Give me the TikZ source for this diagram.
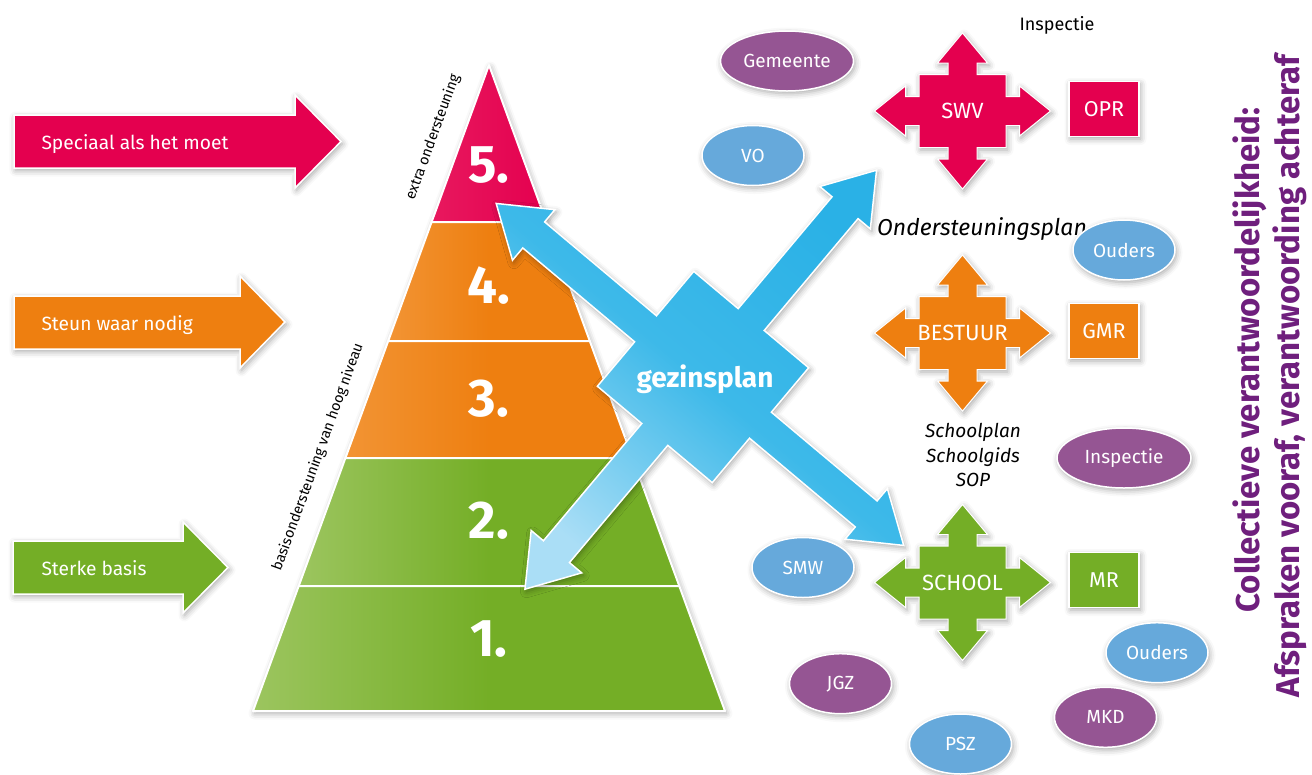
\documentclass[tikz,border=0pt]{standalone}
\usepackage{fontspec}
\setmainfont{Fira Sans}
\usetikzlibrary{shapes.geometric,shadows.blur}

\definecolor{rood}{HTML}{E4004F}
\definecolor{roodlicht}{HTML}{E8185E}
\definecolor{oranje}{HTML}{EE7F10}
\definecolor{oranjelicht}{HTML}{F29434}
\definecolor{groen}{HTML}{74AE26}
\definecolor{groenlicht}{HTML}{9CC55F}
\definecolor{paars}{HTML}{955593}
\definecolor{blauw}{HTML}{66A9DB}
\definecolor{titelpaars}{HTML}{6F1F7D}
\definecolor{gezinblauw}{HTML}{2AB1E6}
\definecolor{gezinmidden}{HTML}{3DB9E9}
\definecolor{gezinlicht}{HTML}{AADEF6}

\tikzset{
  schaduw/.style={blur shadow={shadow xshift=1.5pt, shadow yshift=-2.5pt,
      shadow blur radius=6pt, shadow opacity=35}},
  ovaal/.style={ellipse, draw=white, line width=1.5pt, schaduw, text=white,
      minimum width=102pt, minimum height=60pt, inner sep=0pt,
      font=\fontsize{19}{22}\selectfont},
  blok/.style={rectangle, draw=white, line width=1.5pt, schaduw, text=white,
      minimum width=70pt, minimum height=55pt, inner sep=0pt,
      font=\fontsize{21.5}{24}\selectfont},
  pijltekst/.style={text=white, anchor=base west, font=\fontsize{19.2}{22}\selectfont},
  laag/.style={draw=white, line width=2pt, line join=round},
  cijfer/.style={text=white, font=\bfseries\fontsize{53}{53}\selectfont},
  randtekst/.style={font=\fontsize{14.5}{16}\selectfont, rotate=70},
  schuin/.style={font=\itshape\fontsize{19}{24.5}\selectfont, align=center},
  titel/.style={rotate=90, text=titelpaars, font=\bfseries\fontsize{33}{35}\selectfont}
}

% four-way arrow with its label: centre, colour, name, text
\newcommand{\kruis}[4]{%
  \fill[#2, draw=white, line width=1pt, schaduw, shift={#1}]
    (88,0) -- (57,25) -- (57,14.5) -- (43.5,14.5) -- (43.5,36.5) -- (14.5,36.5)
    -- (14.5,48) -- (25,48) -- (0,78) -- (-25,48) -- (-14.5,48) -- (-14.5,36.5)
    -- (-43.5,36.5) -- (-43.5,14.5) -- (-57,14.5) -- (-57,25) -- (-88,0)
    -- (-57,-25) -- (-57,-14.5) -- (-43.5,-14.5) -- (-43.5,-36.5) -- (-14.5,-36.5)
    -- (-14.5,-48) -- (-25,-48) -- (0,-78) -- (25,-48) -- (14.5,-48) -- (14.5,-36.5)
    -- (43.5,-36.5) -- (43.5,-14.5) -- (57,-14.5) -- (57,-25) -- cycle;
  \node[text=white, font=\fontsize{22}{24}\selectfont] (#3) at #1 {#4};
}

\begin{document}
\begin{tikzpicture}[x=1pt, y=-1pt, font=\fontsize{18}{22}\selectfont]
            \useasboundingbox (0,0) rectangle (1312,774);

            % Arrows on the left
            \fill[rood, draw=white, line width=1.5pt, schaduw] (14,115) -- (295,115) -- (295,95)
                -- (341,141.5) -- (295,188) -- (295,168) -- (14,168) -- cycle;
            \fill[oranje, draw=white, line width=1.5pt, schaduw] (14,296) -- (240,296) -- (240,276)
                -- (285,322) -- (240,368) -- (240,349) -- (14,349) -- cycle;
            \fill[groen, draw=white, line width=1.5pt, schaduw] (13,541) -- (183,541) -- (183,522)
                -- (228,567.5) -- (183,613) -- (183,594) -- (13,594) -- cycle;
            \node[pijltekst] (speciaal) at (38,149) {Speciaal als het moet};
            \node[pijltekst] (steun) at (38,330) {Steun waar nodig};
            \node[pijltekst] (sterk) at (38,575) {Sterke basis};

            % Pyramid
            \coordinate (P_0) at (489,65);
            \coordinate (L_1) at (431.6,222);
            \coordinate (R_1) at (546.4,222);
            \coordinate (L_2) at (388.2,341);
            \coordinate (R_2) at (589.8,341);
            \coordinate (L_3) at (345.4,458);
            \coordinate (R_3) at (632.6,458);
            \coordinate (L_4) at (298.7,586);
            \coordinate (R_4) at (679.3,586);
            \coordinate (L_5) at (253,711);
            \coordinate (R_5) at (725,711);

            \fill[white, schaduw] (P_0) -- (R_5) -- (L_5) -- cycle;
            \path[laag, left color=roodlicht, right color=rood] (P_0) -- (R_1) -- (L_1) -- cycle;
            \path[laag, left color=oranjelicht, right color=oranje, middle color=oranje]
                (L_1) -- (R_1) -- (R_2) -- (L_2) -- cycle;
            \path[laag, left color=oranjelicht, right color=oranje, middle color=oranje]
                (L_2) -- (R_2) -- (R_3) -- (L_3) -- cycle;
            \path[laag, left color=groenlicht, right color=groen, middle color=groen]
                (L_3) -- (R_3) -- (R_4) -- (L_4) -- cycle;
            \path[laag, left color=groenlicht, right color=groen, middle color=groen]
                (L_4) -- (R_4) -- (R_5) -- (L_5) -- cycle;

            \node[cijfer] (niveau_5) at (489,165) {5.};
            \node[cijfer] (niveau_4) at (489,285.5) {4.};
            \node[cijfer] (niveau_3) at (489,399) {3.};
            \node[cijfer] (niveau_2) at (489,521) {2.};
            \node[cijfer] (niveau_1) at (489,639) {1.};

            \node[randtekst] (extra) at (433,137) {extra ondersteuning};
            \node[randtekst] (basis) at (318,457) {basisondersteuning van hoog niveau};

            % Gezinsplan star
            \begin{scope}[shift={(703,377)}, rotate=50]
            \path[draw=white, line width=1.5pt, schaduw, top color=gezinlicht,
                  bottom color=gezinblauw, middle color=gezinmidden, shading angle=140]
                (270,0) -- (221,33) -- (221,17) -- (75,17) -- (75,75) -- (17,75)
                -- (17,213) -- (33,213) -- (0,262) -- (-33,213) -- (-17,213) -- (-17,75)
                -- (-75,75) -- (-75,17) -- (-228,17) -- (-228,33) -- (-277,0)
                -- (-228,-33) -- (-228,-17) -- (-75,-17) -- (-75,-75) -- (-17,-75)
                -- (-17,-221) -- (-33,-221) -- (0,-270) -- (33,-221) -- (17,-221) -- (17,-75)
                -- (75,-75) -- (75,-17) -- (221,-17) -- (221,-33) -- cycle;
            \end{scope}
            \node[text=white, anchor=base, font=\bfseries\fontsize{28}{30}\selectfont]
                (gezinsplan) at (705,387.5) {gezinsplan};

            % Organisations
            \kruis{(962.5,111)}{rood}{swv}{SWV}
            \kruis{(962.5,333)}{oranje}{bestuur}{BESTUUR}
            \kruis{(962.5,582.5)}{groen}{school}{SCHOOL}

            \node[blok, fill=rood] (opr) at (1104,109) {OPR};
            \node[blok, fill=oranje] (gmr) at (1104,331) {GMR};
            \node[blok, fill=groen] (mr) at (1104,580) {MR};

            \node (inspectie_1) at (1057,25) {Inspectie};
            \node[schuin, font=\itshape\fontsize{23}{25}\selectfont] (osp) at (982,229) {Ondersteuningsplan};
            \node[schuin] (schoolplan) at (973,455) {Schoolplan\\Schoolgids\\SOP};

            % Partners
            \node[ovaal, fill=paars, minimum width=133pt] (gemeente) at (787,61) {Gemeente};
            \node[ovaal, fill=blauw] (vo) at (753,155.5) {VO};
            \node[ovaal, fill=blauw] (ouders_1) at (1124,250) {Ouders};
            \node[ovaal, fill=paars, minimum width=134pt] (inspectie_2) at (1124,458) {Inspectie};
            \node[ovaal, fill=blauw] (smw) at (803,567.5) {SMW};
            \node[ovaal, fill=paars] (jgz) at (840.5,683.7) {JGZ};
            \node[ovaal, fill=blauw] (psz) at (960.5,744) {PSZ};
            \node[ovaal, fill=blauw] (ouders_2) at (1157,652.7) {Ouders};
            \node[ovaal, fill=paars] (mkd) at (1105.5,717.3) {MKD};

            % Title
            \node[titel] (titel_1) at (1250,360) {Collectieve verantwoordelijkheid:};
            \node[titel] (titel_2) at (1290,376) {Afspraken vooraf, verantwoording achteraf};
\end{tikzpicture}
\end{document}
